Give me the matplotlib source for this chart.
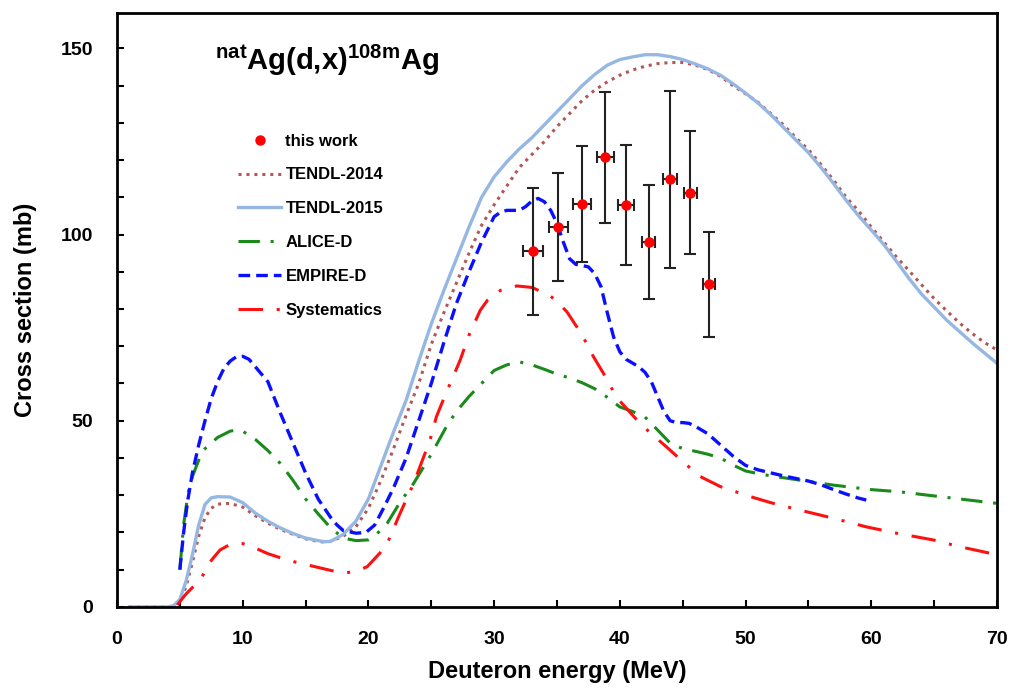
import matplotlib
matplotlib.use("Agg")
import matplotlib.pyplot as plt
from matplotlib.ticker import MultipleLocator

plt.rcParams['font.family'] = ['Liberation Sans', 'DejaVu Sans']
plt.rcParams['font.weight'] = 'bold'
plt.rcParams['mathtext.fontset'] = 'custom'
plt.rcParams['mathtext.bf'] = 'Liberation Sans:bold'
plt.rcParams['mathtext.rm'] = 'Liberation Sans:bold'

# measured points (this work)
exp_e = [33.1, 35.1, 37.0, 38.85, 40.5, 42.3, 44.0, 45.6, 47.1]
exp_de = [0.8, 0.77, 0.7, 0.66, 0.64, 0.53, 0.53, 0.53, 0.48]
exp_cs = [95.5, 102.0, 108.3, 120.7, 107.9, 98.0, 114.8, 111.2, 86.6]
exp_dcs = [17.0, 14.6, 15.6, 17.5, 16.2, 15.2, 23.7, 16.5, 14.0]

# TENDL-2015
t15_e = [1, 2, 3, 4, 4.5, 5, 5.5, 6, 6.5, 7, 7.5, 8, 9, 10, 11, 12, 13, 14, 15, 16,
         16.5, 17, 18, 19, 20, 21, 22, 23, 24, 25, 26, 27, 28, 29, 30, 31, 32, 33, 34,
         35, 36, 37, 38, 39, 40, 41, 42, 43, 44, 45, 46, 47, 48, 49, 50, 51, 52, 53,
         54, 55, 56, 57, 58, 59, 60, 61, 62, 63, 64, 65, 66, 67, 68, 69, 70]
t15_cs = [0, 0, 0, 0, 0.3, 2, 7, 14, 22, 27.5, 29.3, 29.6, 29.5, 28, 25.2, 23, 21.2,
          19.7, 18.5, 17.8, 17.5, 17.6, 19.5, 23, 29, 38, 47, 55.5, 66, 76, 85, 93.5,
          102, 110, 115.5, 119.5, 123, 126, 129.5, 133, 136.5, 140, 143, 145.5, 147,
          147.7, 148.3, 148.3, 147.8, 147, 145.8, 144.5, 142.8, 140.5, 138, 135.3,
          132.2, 128.8, 125.4, 122, 118, 113.7, 109.2, 105, 101.2, 97.3, 92.8, 88.2,
          84, 80.5, 77, 74, 71, 68.2, 65.4]

# TENDL-2014
t14_e = t15_e
t14_cs = [0, 0, 0, 0, 0.2, 1.5, 5.5, 12, 19, 24, 26.5, 27.6, 27.8, 26.8, 24.5, 22.5,
          20.8, 19.5, 18.3, 17.6, 17.4, 17.6, 19, 21.5, 26.5, 34, 42.5, 51.5, 60, 70.5,
          79, 87, 95, 102.5, 108, 113, 118, 121.5, 125, 129, 132.5, 136, 138.8, 141,
          142.8, 144.2, 145.2, 145.9, 146.2, 146.2, 145.5, 144.3, 142.5, 140, 137.8,
          135.5, 132.5, 129.5, 126, 122.8, 118.8, 114.6, 110, 106.3, 102, 98, 94, 90.3,
          86.5, 82.8, 79.5, 76.3, 73.5, 71, 69]

# ALICE-D
alice_e = [5, 5.3, 5.65, 6, 6.6, 7, 8, 9, 9.5, 10, 11, 12, 13, 14, 15, 16, 17, 18, 19,
           20, 20.5, 21.5, 22.5, 23.6, 25, 26.2, 27, 28, 29, 30, 31, 32, 33, 34, 35, 36,
           37, 38, 39, 40, 41, 42, 43, 44, 45, 46, 47, 48, 49, 50, 51, 52, 54, 57, 60,
           62.3, 65, 70]
alice_cs = [10, 22, 30.5, 35, 40.3, 42.5, 45.5, 47.2, 47.5, 47.2, 45, 42, 38.5, 34, 29,
            25, 21.2, 18.5, 17.8, 18, 19, 22.5, 28, 33.2, 41, 48.4, 52.5, 56.5, 60, 63.5,
            65, 65.8, 65, 63.8, 62.5, 61.5, 60.2, 58.6, 56.3, 53.7, 52.5, 51, 47.5, 44,
            42.5, 41.8, 41, 40, 38.1, 36.5, 35.8, 35.2, 34.2, 32.7, 31.5, 30.9, 29.8, 27.8]

# EMPIRE-D
empire_e = [5, 5.3, 5.6, 6, 6.5, 7, 7.5, 8, 8.5, 9, 9.5, 10, 10.5, 11, 12, 13, 14, 15,
            16, 17, 17.5, 18, 19, 19.8, 20.5, 21.2, 22, 23, 24, 25, 26, 27, 28, 29, 30,
            30.5, 31, 32, 32.5, 33, 33.5, 34, 34.5, 35, 35.5, 36, 36.5, 37, 37.5, 38,
            38.5, 39, 39.5, 40, 40.5, 41, 41.5, 42, 42.5, 43, 43.5, 44, 44.5, 45, 45.5,
            46, 47, 48, 49, 50, 51, 52, 53, 54, 55, 56, 57, 58, 59, 59.6]
empire_cs = [10, 20, 28, 36, 43.5, 50, 56, 60.5, 64, 66, 67.2, 67.3, 66.5, 64.5, 60.5,
             52, 44, 36, 29, 24, 22, 20.5, 19.8, 20, 22, 26.5, 32, 40, 50, 60, 71, 81.5,
             90, 98, 104.8, 106, 106.5, 106.5, 107.5, 109, 109.7, 108.8, 106.5, 103, 98,
             93.5, 92, 91.7, 91.3, 89.5, 86, 79, 72.5, 68.5, 66.5, 65.5, 64.5, 63, 60.5,
             56.5, 52.5, 50, 49.5, 49.5, 49.3, 48.5, 46.5, 43.5, 40.5, 38, 36.8, 36, 35.2,
             34.5, 33.8, 32.8, 31.5, 30.3, 29.2, 28.7]

# Systematics
syst_e = [4.8, 5, 5.5, 6, 6.6, 7, 7.5, 8.2, 9, 9.5, 10, 11, 12, 13, 14, 15, 16, 17, 18,
          19, 19.9, 20.9, 21.5, 22.5, 23.6, 24.9, 25.4, 26, 27.3, 28, 28.9, 29.5, 30.5,
          31.8, 33, 34.4, 35, 35.8, 37, 37.9, 39, 39.7, 41.6, 42.5, 43.7, 45, 46.4, 48,
          50.4, 52, 54.3, 57, 59.6, 62, 64.9, 67, 70]
syst_cs = [0.5, 1.4, 3.5, 5.2, 7.2, 9.5, 12.5, 15.3, 16.8, 17.1, 17, 15.8, 14.3, 13.2,
           12.2, 11.4, 10.6, 9.8, 9.1, 9.5, 10.8, 14.4, 17.1, 25, 33.2, 44.8, 51, 56,
           66.3, 73, 79.7, 82.5, 85, 86.2, 85.8, 83.7, 82, 79.2, 73, 67.2, 61, 56.4, 49.3,
           46.5, 43, 39, 35, 32.3, 29.6, 28, 26, 23.8, 21.5, 19.8, 18, 16.2, 14]

fig = plt.figure(figsize=(10.12, 7.0), dpi=100)
ax = fig.add_axes([0.1156, 0.133, 0.8696, 0.8484])

kw = dict(solid_joinstyle='round', dash_joinstyle='round')
l14, = ax.plot(t14_e, t14_cs, color='#b35656', lw=2.2, ls=(0, (1, 1.6)), label='TENDL-2014', **kw)
l15, = ax.plot(t15_e, t15_cs, color='#95b7e2', lw=2.4, ls='-', label='TENDL-2015', **kw)
lal, = ax.plot(alice_e, alice_cs, color='#1a8a1a', lw=2.2, ls=(0, (7, 3.5, 1, 3.5)), label='ALICE-D', **kw)
lem, = ax.plot(empire_e, empire_cs, color='#0a10ff', lw=2.4, ls=(0, (3.5, 1.8)), label='EMPIRE-D', **kw)
lsy, = ax.plot(syst_e, syst_cs, color='#ff1010', lw=2.2, ls=(0, (8, 4.5, 1, 4.5)), label='Systematics', **kw)

ax.errorbar(exp_e, exp_cs, yerr=exp_dcs, xerr=exp_de, fmt='none', ecolor='#222222',
            elinewidth=1.5, capsize=4, capthick=1.5, zorder=4)
lpt, = ax.plot(exp_e, exp_cs, 'o', color='#ff0000', ms=6.5, zorder=5, label='this work')

ax.set_xlim(0, 70)
ax.set_ylim(0, 159.5)
ax.xaxis.set_major_locator(MultipleLocator(10))
ax.xaxis.set_minor_locator(MultipleLocator(5))
ax.yaxis.set_major_locator(MultipleLocator(50))
ax.yaxis.set_minor_locator(MultipleLocator(10))
ax.tick_params(which='both', direction='in', length=5, width=1.5, top=False, right=False)
ax.tick_params(axis='x', which='major', labelsize=14, pad=17)
ax.tick_params(axis='y', which='major', labelsize=14, pad=17)
for sp in ax.spines.values():
    sp.set_linewidth(2)

ax.set_xlabel('Deuteron energy (MeV)', fontsize=17, fontweight='bold', labelpad=9)
ax.set_ylabel('Cross section (mb)', fontsize=17, fontweight='bold', labelpad=17)

ax.text(0.111, 0.904, r'$\mathbf{^{nat}Ag(d{,}x)^{108m}Ag}$', transform=ax.transAxes,
        fontsize=21, ha='left', va='baseline')

ax.legend(handles=[lpt, l14, l15, lal, lem, lsy], loc='upper left',
          bbox_to_anchor=(0.1375, 0.797), frameon=False,
          handlelength=2.6, handletextpad=0.25, labelspacing=1.13,
          borderpad=0, borderaxespad=0, prop={'weight': 'bold', 'size': 12})

fig.savefig('out.png', dpi=100)
